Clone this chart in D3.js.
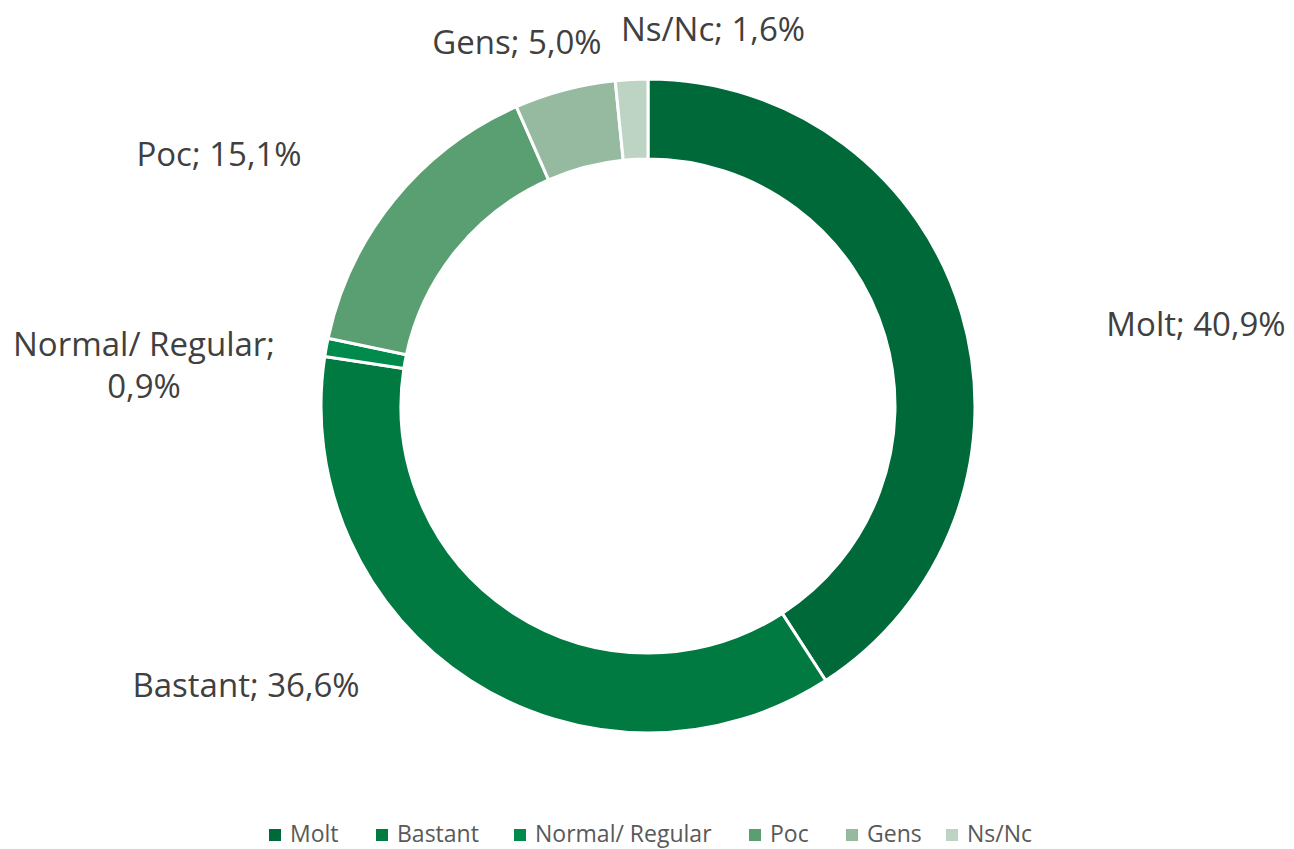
<!DOCTYPE html>
<html><head><meta charset="utf-8">
<script src="https://cdn.jsdelivr.net/npm/d3@7"></script>
<style>body{margin:0;background:#fff}svg{display:block}text{font-family:'Open Sans',sans-serif;}</style>
</head><body>
<svg id="c" width="1294" height="849"></svg>
<script>
const categories = ["Molt", "Bastant", "Normal/ Regular", "Poc", "Gens", "Ns/Nc"];
const values = [40.9, 36.6, 0.9, 15.1, 5.0, 1.6];
const colors = ["#00693A", "#007A41", "#008A4C", "#5A9F72", "#96BAA0", "#BDD4C5"];
// label anchor points (layout, not data)
const labelLayout = [
  {x: 1196, y: 336, lines: null},
  {x: 246, y: 697, lines: null},
  {x: 144, y: 356, lines: ["Normal/ Regular;", "0,9%"]},
  {x: 219, y: 166, lines: null},
  {x: 517, y: 54, lines: null},
  {x: 713, y: 41, lines: null}
];

const svg = d3.select("#c");
const cx = 648, cy = 406, rOuter = 327, rInner = 247;
const fmt = v => v.toFixed(1).replace(".", ",") + "%";

const pie = d3.pie().sort(null).value(d => d)(values);
const arc = d3.arc().innerRadius(rInner).outerRadius(rOuter);
const g = svg.append("g").attr("transform", `translate(${cx},${cy})`);
g.selectAll("path").data(pie).join("path")
  .attr("d", arc)
  .attr("fill", (d, i) => colors[i])
  .attr("stroke", "#fff").attr("stroke-width", 3);

labelLayout.forEach((L, i) => {
  const lines = L.lines || [categories[i] + "; " + fmt(values[i])];
  const t = svg.append("text").attr("x", L.x).attr("y", L.y)
    .attr("text-anchor", "middle").attr("font-size", 33).attr("fill", "#404040");
  lines.forEach((ln, k) => t.append("tspan").attr("x", L.x).attr("dy", k === 0 ? 0 : 42).text(ln));
});

// legend
const legendX = [269, 376, 514, 749, 846, 946];
const lg = svg.append("g");
categories.forEach((c, i) => {
  lg.append("rect").attr("x", legendX[i]).attr("y", 829).attr("width", 12).attr("height", 12).attr("fill", colors[i]);
  lg.append("text").attr("x", legendX[i] + 21).attr("y", 842).attr("font-size", 23).attr("fill", "#595959").text(c);
});
</script>
</body></html>
